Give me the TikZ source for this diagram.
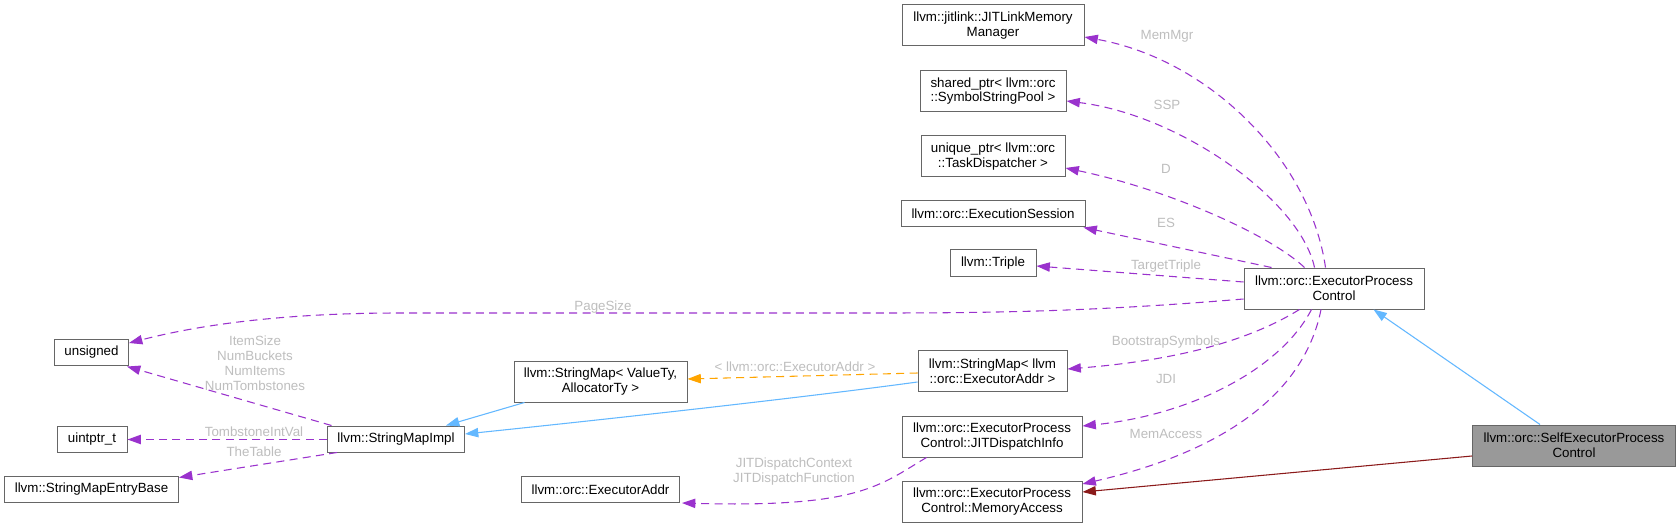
\documentclass[tikz,border=0pt]{standalone}
\usepackage{fontspec}
\setmainfont{Liberation Sans}
\usetikzlibrary{arrows.meta,calc}
\definecolor{boxline}{HTML}{666666}
\definecolor{selffill}{HTML}{999999}
\definecolor{deppurple}{HTML}{9A32CD}
\definecolor{inhblue}{HTML}{63B8FF}
\definecolor{privred}{HTML}{8B1A1A}
\definecolor{tmplorange}{HTML}{FFA500}
\definecolor{lblgrey}{HTML}{BEBEBE}
\tikzset{
  cls/.style={draw=boxline, line width=0.75pt, fill=white, inner sep=0pt, align=center,
    font=\fontsize{10}{11}\selectfont, text=black},
  twoline/.style={minimum height=30.75pt},
  oneline/.style={minimum height=19.5pt},
  elabel/.style={inner sep=0pt, align=center, font=\fontsize{10}{11.25}\selectfont, text=lblgrey},
  tipA/.style={-{Triangle[length=10pt,width=7pt]}},
  dep/.style={draw=deppurple, line width=0.8pt, dash pattern=on 6pt off 4pt, tipA},
  inh/.style={draw=inhblue, line width=0.8pt, tipA},
  priv/.style={draw=privred, line width=0.8pt, tipA},
  tmpl/.style={draw=tmplorange, line width=0.8pt, dash pattern=on 6pt off 4pt, tipA},
}
\begin{document}
\begin{tikzpicture}[x=0.75pt,y=-0.75pt]
\useasboundingbox[fill=white] (0,0) rectangle (1680,527);

% classes
\node[cls,twoline,minimum width=136.5pt] (jlmm) at (993,25.5) {llvm::jitlink::JITLinkMemory\\Manager};
\node[cls,twoline,minimum width=109.5pt] (ssp) at (993,91) {shared\_ptr< llvm::orc\\::SymbolStringPool >};
\node[cls,twoline,minimum width=108pt] (utd) at (993,156.5) {unique\_ptr< llvm::orc\\::TaskDispatcher >};
\node[cls,oneline,minimum width=138pt] (es) at (993,214) {llvm::orc::ExecutionSession};
\node[cls,oneline,minimum width=64.5pt] (triple) at (993,263) {llvm::Triple};
\node[cls,twoline,minimum width=135pt] (epc) at (1334,288.5) {llvm::orc::ExecutorProcess\\Control};
\node[cls,oneline,minimum width=55.5pt] (unsigned) at (91.5,352) {unsigned};
\node[cls,oneline,minimum width=52.5pt] (uintptr) at (92,439) {uintptr\_t};
\node[cls,oneline,minimum width=130.5pt] (smeb) at (91.5,489) {llvm::StringMapEntryBase};
\node[cls,oneline,minimum width=102.75pt] (smimpl) at (396,439) {llvm::StringMapImpl};
\node[cls,twoline,minimum width=129.75pt] (smvt) at (600.5,381.5) {llvm::StringMap< ValueTy,\\AllocatorTy >};
\node[cls,twoline,minimum width=111.75pt] (smea) at (992.5,371) {llvm::StringMap< llvm\\::orc::ExecutorAddr >};
\node[cls,twoline,minimum width=135pt] (jdi) at (992,436.5) {llvm::orc::ExecutorProcess\\Control::JITDispatchInfo};
\node[cls,oneline,minimum width=118.5pt] (eaddr) at (600.5,489.5) {llvm::orc::ExecutorAddr};
\node[cls,twoline,minimum width=135pt] (memacc) at (992,501.5) {llvm::orc::ExecutorProcess\\Control::MemoryAccess};
\node[cls,twoline,minimum width=152.25pt,fill=selffill] (sepc) at (1574,445.5) {llvm::orc::SelfExecutorProcess\\Control};

% member edges from ExecutorProcessControl
\draw[dep] ($(epc.north west)+(82,0)$) .. controls (1310,160) and (1210,60) .. ($(jlmm.east)+(0,11.5)$);
\draw[dep] ($(epc.north west)+(71,0)$) .. controls (1300,200) and (1180,115) .. ($(ssp.east)+(0,10)$);
\draw[dep] ($(epc.north west)+(61,0)$) .. controls (1270,235) and (1170,190) .. ($(utd.east)+(0,11.5)$);
\draw[dep] ($(epc.north west)+(28,0)$) -- ($(es.south east)+(-2,0)$);
\draw[dep] ($(epc.west)+(0,-6.5)$) -- ($(triple.east)+(0,3)$);
\draw[dep] ($(epc.west)+(0,10.5)$) .. controls (1100,311) and (1000,313) .. (880,313)
   -- (400,313) .. controls (260,313) and (180,330) .. ($(unsigned.east)+(0,-9)$);
\draw[dep] ($(epc.south west)+(56,0)$) .. controls (1250,340) and (1180,360) .. ($(smea.east)+(0,-2)$);
\draw[dep] ($(epc.south west)+(68,0)$) .. controls (1280,370) and (1190,415) .. ($(jdi.east)+(0,-10.5)$);
\draw[dep] ($(epc.south west)+(77.5,0)$) .. controls (1305,390) and (1230,450) .. ($(memacc.east)+(0,-17.5)$);

% inheritance of SelfExecutorProcessControl
\draw[inh] ($(sepc.north west)+(68,0)$) -- ($(epc.south west)+(130,0)$);
\draw[priv] ($(sepc.west)+(0,10.5)$) -- ($(memacc.east)+(0,-9.5)$);

% StringMap family
\draw[inh] ($(smvt.south west)+(11,0)$) -- ($(smimpl.north east)+(-19,0)$);
\draw[inh] ($(smea.west)+(0,11)$) .. controls (800,398) and (600,420) .. ($(smimpl.east)+(0,-5)$);
\draw[tmpl] ($(smea.west)+(0,2)$) -- ($(smvt.east)+(0,-2.5)$);
\draw[dep] ($(smimpl.north west)+(4.5,0)$) -- ($(unsigned.south east)+(-2,1)$);
\draw[dep] ($(smimpl.west)+(0,0.5)$) -- ($(uintptr.east)+(0,0.5)$);
\draw[dep] ($(smimpl.south west)+(10,0)$) -- ($(smeb.north east)+(0,2)$);
\draw[dep] ($(jdi.south west)+(25,0)$) .. controls (880,485) and (860,508) .. ($(eaddr.east)+(2,13.5)$);

% edge labels
\node[elabel] (lMemMgr) at (1167,36) {MemMgr};
\node[elabel] (lSSP) at (1167,105) {SSP};
\node[elabel] (lD) at (1166,169) {D};
\node[elabel] (lES) at (1166,222.7) {ES};
\node[elabel] (lTT) at (1166,265.7) {TargetTriple};
\node[elabel] (lPS) at (603,306.7) {PageSize};
\node[elabel] (lBS) at (1166,341.7) {BootstrapSymbols};
\node[elabel] (lJDI) at (1166,379) {JDI};
\node[elabel] (lMA) at (1166,434) {MemAccess};
\node[elabel] (lNums) at (255,363.2) {ItemSize\\NumBuckets\\NumItems\\NumTombstones};
\node[elabel] (lTIV) at (254,431.7) {TombstoneIntVal};
\node[elabel] (lTT2) at (254,451.7) {TheTable};
\node[elabel] (lTmpl) at (795,366.7) {< llvm::orc::ExecutorAddr >};
\node[elabel] (lJDF) at (794,472) {JITDispatchContext\\JITDispatchFunction};
\end{tikzpicture}
\end{document}
